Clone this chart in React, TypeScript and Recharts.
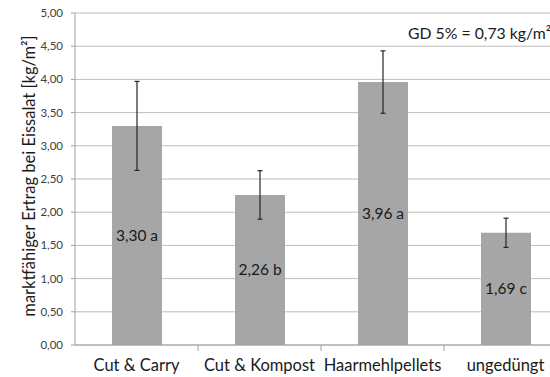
import React from 'react';
import { BarChart, Bar, XAxis, YAxis, CartesianGrid, ErrorBar, LabelList, Label, Customized } from 'recharts';

const categories = ['Cut & Carry', 'Cut & Kompost', 'Haarmehlpellets', 'ungedüngt'];
const yields = [3.30, 2.26, 3.96, 1.69];
const errors = [0.67, 0.365, 0.47, 0.22];
const letters = ['a', 'b', 'a', 'c'];
const yTicks = [0, 0.5, 1, 1.5, 2, 2.5, 3, 3.5, 4, 4.5, 5];
const yLabel = 'marktfähiger Ertrag bei Eissalat [kg/m²]';
const note = 'GD 5% = 0,73 kg/m²';

const data = categories.map((c, i) => ({
  name: c,
  value: yields[i],
  err: errors[i],
  label: `${yields[i].toFixed(2).replace('.', ',')} ${letters[i]}`,
}));

const FONT = 'Lato, "Open Sans", sans-serif';

const fmt = (v: number) => v.toFixed(2).replace('.', ',');

const CatTick = (props: any) => {
  const { x, y, payload } = props;
  const half = payload && payload.offset ? payload.offset : 61.5;
  return (
    <g>
      <line x1={x + half} y1={y - 8} x2={x + half} y2={y - 2} stroke="#a0a0a0" />
      <text x={x} y={y + 18} textAnchor="middle" fontSize={16.5} fill="#1a1a1a" fontFamily={FONT}>
        {payload.value}
      </text>
    </g>
  );
};

const Note = () => (
  <text x={551} y={39} textAnchor="end" fontSize={15.8} fill="#1a1a1a" fontFamily={FONT}>
    {note}
  </text>
);

export default function App() {
  return (
    <div style={{ position: 'fixed', left: 0, top: 0, width: 550, height: 377, overflow: 'hidden', background: '#fff' }}>
      <BarChart
        width={580}
        height={377}
        data={data}
        margin={{ top: 13, right: 13, bottom: 0, left: 0 }}
        barCategoryGap={0}
      >
        <CartesianGrid vertical={false} stroke="#bdbdbd" strokeWidth={1} />
        <XAxis
          dataKey="name"
          height={32}
          axisLine={{ stroke: '#a0a0a0' }}
          tickLine={false}
          tick={<CatTick />}
          interval={0}
        />
        <YAxis
          width={75}
          domain={[0, 5]}
          ticks={yTicks}
          tickFormatter={fmt}
          axisLine={{ stroke: '#a0a0a0' }}
          tickLine={{ stroke: '#a0a0a0' }}
          tickSize={4}
          tickMargin={8}
          tick={{ fontSize: 11.5, fill: '#404040', fontFamily: FONT }}
        >
          <Label
            value={yLabel}
            angle={-90}
            position="insideLeft"
            offset={29}
            dy={-3}
            style={{ textAnchor: 'middle', fontSize: 16.5, fill: '#1a1a1a', fontFamily: FONT }}
          />
        </YAxis>
        <Bar dataKey="value" fill="#a6a6a6" barSize={50} isAnimationActive={false}>
          <ErrorBar dataKey="err" width={2.5} stroke="#262626" strokeWidth={1.2} direction="y" />
          <LabelList dataKey="label" position="center" style={{ fontSize: 15.5, fill: '#1a1a1a', fontFamily: FONT }} />
        </Bar>
        <Customized component={Note} />
      </BarChart>
    </div>
  );
}
